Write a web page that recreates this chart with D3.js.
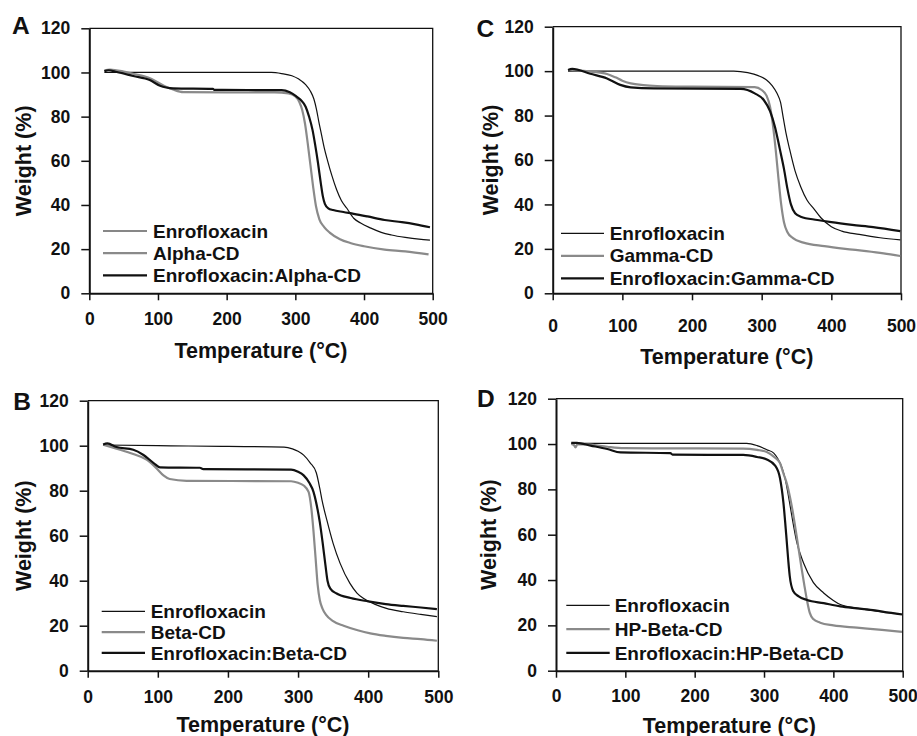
<!DOCTYPE html>
<html>
<head>
<meta charset="utf-8">
<script src="https://cdn.jsdelivr.net/npm/d3@7"></script>
<style>
  body { margin: 0; background: #fff; }
  svg { display: block; font-family: 'Liberation Sans', Arial, Helvetica, sans-serif; }
</style>
</head>
<body>
<div id="chart"></div>
<script>
// Axis ticks and labels
const xTicks = [0, 100, 200, 300, 400, 500];
const yTicks = [0, 20, 40, 60, 80, 100, 120];
const xTitle = 'Temperature (°C)';
const yTitle = 'Weight (%)';

// Series names per panel
const namesA = ['Enrofloxacin', 'Alpha-CD', 'Enrofloxacin:Alpha-CD'];
const namesB = ['Enrofloxacin', 'Beta-CD', 'Enrofloxacin:Beta-CD'];
const namesC = ['Enrofloxacin', 'Gamma-CD', 'Enrofloxacin:Gamma-CD'];
const namesD = ['Enrofloxacin', 'HP-Beta-CD', 'Enrofloxacin:HP-Beta-CD'];

// Panel A: [temperature °C, weight %]
const enroA = [[22,100],[100,100],[200,100],[265,100],[280,99.5],[295,98.5],[305,97],[315,94.5],[322,91.5],[327,88],[331,83],[334,78],[338,72],[342,66],[347,60],[353,53.5],[360,47],[367,42],[375,38.5],[385,34],[395,31.8],[410,29.5],[425,27.6],[440,26.4],[460,25.3],[480,24.5],[496,24.1]];
const alphaA = [[22,101],[30,101.3],[50,100.4],[65,99.3],[80,98.3],[90,97.2],[100,95.5],[110,93.8],[122,92.3],[137,91.1],[200,91],[270,91],[290,90.5],[300,89.2],[306,86.5],[310,83],[314,77],[318,68],[322,58],[326,48],[330,39.5],[335,33.5],[342,30],[350,27.5],[365,24.5],[380,22.8],[400,21.3],[430,19.8],[460,19],[494,17.6]];
const complexA = [[22,100.5],[28,101],[40,100.2],[64,98.4],[88,96.6],[103,94],[112,93.2],[122,92.8],[180,92.6],[182,92.1],[280,92],[292,91],[300,89.5],[308,87.5],[315,84.5],[320,80],[325,74],[329,67],[333,59],[337,50],[340,44],[343,40.5],[348,38.5],[355,37.7],[370,36.8],[385,36],[405,34.8],[430,33.2],[455,32.2],[475,31.2],[496,29.9]];

// Panel B
const enroB = [[22,100.3],[100,100],[200,99.7],[280,99.4],[292,98.6],[300,97.5],[308,95.8],[317,92.5],[326,88],[331,81],[334,76],[341,67],[350,56.6],[360,47.7],[374,38.8],[384,34.5],[393,32.2],[410,29.5],[426,27.7],[450,26.2],[475,25],[498,24]];
const betaB = [[22,100.5],[41,98.7],[65,96.3],[84,93.8],[98,90],[108,86.8],[117,85.2],[141,84.4],[290,84.2],[300,83.5],[308,82.3],[315,79.5],[319,72],[322,62],[325,50],[328,38],[331,31.4],[335,27.5],[340,24.8],[350,22],[365,20],[385,18],[403,16.6],[425,15.5],[450,14.6],[475,14],[498,13.3]];
const complexB = [[22,100.5],[28,101],[41,99.4],[65,98.2],[79,96],[94,92.3],[103,90.4],[160,90.2],[165,89.6],[290,89.4],[300,88.4],[308,86.8],[316,83.5],[322,79.5],[327,73],[331,66],[335,57],[339,47],[342,40],[346,36.5],[355,34.3],[375,32.3],[400,30.8],[425,29.6],[450,28.8],[475,28.1],[498,27.4]];

// Panel C
const enroC = [[22,100],[260,100],[280,99.3],[295,98],[307,96],[315,93.5],[322,90],[327,86],[331,79],[335,72],[340,65],[348,55],[356,48],[365,42],[375,38],[385,34],[400,30],[415,28],[440,26.5],[470,25],[499,24]];
const gammaC = [[22,100.5],[40,100.2],[55,99.8],[78,98.7],[90,97.2],[100,95.7],[112,94.5],[130,93.7],[150,93.3],[200,93],[290,92.8],[300,91.5],[307,89],[312,84],[316,76],[320,65],[324,52],[328,40],[332,32],[337,27.5],[345,24.8],[360,22.8],[390,21.2],[420,20],[450,19],[475,18],[499,16.8]];
const complexC = [[22,100.5],[28,101],[54,98.8],[78,96.7],[97,93.8],[112,92.7],[145,92.2],[270,92],[290,90],[303,87],[312,82],[319,75],[326,65],[332,56],[337,47],[342,40],[348,36],[356,34.5],[380,33],[400,32],[430,30.8],[460,29.8],[499,28]];

// Panel D
const enroD = [[22,100.3],[100,100.3],[200,100.3],[275,100.3],[290,99.3],[304,97.5],[314,96],[320,93.5],[326,89.5],[331,84],[335,77.5],[340,68.5],[347,57],[357,47.5],[371,39],[386,34.3],[400,31],[410,29.2],[434,27.6],[460,26.4],[480,25.6],[499,24.9]];
const hpD = [[22,100],[26,99.5],[28,98.5],[31,100],[50,99.7],[74,98.8],[98,98.2],[150,98.1],[270,98],[290,97.4],[304,96.5],[315,94.2],[323,91.6],[328,87],[333,82.5],[340,72.6],[347,59.5],[354,45.5],[358,38],[362,31],[366,25.5],[371,22.8],[381,21.2],[400,20],[434,19],[470,18],[499,17.1]];
const complexD = [[22,100.5],[30,100.5],[50,99.3],[74,97.8],[93,96.3],[165,96],[168,95.3],[270,95.2],[290,94.3],[304,93.2],[316,90.5],[323,85],[328,74],[332,60],[335,48.5],[337,42],[342,35.2],[350,32.8],[362,31.2],[386,29.8],[410,28.4],[434,27.5],[460,26.6],[480,25.6],[499,24.8]];

(() => {
  window.addEventListener('DOMContentLoaded', () => {
    const WIDTH = 917;
    const HEIGHT = 736;

    // line styles: thin black, grey, thick black
    const styles = [
      { color: '#111', width: 1.2 },
      { color: '#8a8a8a', width: 2.2 },
      { color: '#111', width: 2.2 },
    ];

    const panels = [
      { letter: 'A', lx: 12, ly: 34.3, left: 89.3, right: 432.7, top: 28.3, bottom: 293.3,
        xPad: 12.5, yTitleX: 23, xTitleY: 358.3,
        legend: { x: 103, x2: 147, tx: 153, y: 231, dy: 22.2 },
        names: namesA, series: [enroA, alphaA, complexA] },
      { letter: 'C', lx: 476.5, ly: 36.7, left: 552.7, right: 901, top: 26.7, bottom: 293.3,
        xPad: 19.5, yTitleX: 490.3, xTitleY: 364,
        legend: { x: 561, x2: 604, tx: 609.7, y: 233.3, dy: 22.5 },
        names: namesC, series: [enroC, gammaC, complexC] },
      { letter: 'B', lx: 13.3, ly: 409.7, left: 87.7, right: 438.3, top: 400.7, bottom: 670.7,
        xPad: 12.7, yTitleX: 23.3, xTitleY: 732,
        legend: { x: 101.7, x2: 145, tx: 150.7, y: 611.3, dy: 20.8 },
        names: namesB, series: [enroB, betaB, complexB] },
      { letter: 'D', lx: 477, ly: 407.3, left: 556, right: 902.7, top: 398.7, bottom: 670.7,
        xPad: 11.7, yTitleX: 488.7, xTitleY: 732.5,
        legend: { x: 566.3, x2: 609.7, tx: 614.7, y: 605.3, dy: 23.8 },
        names: namesD, series: [enroD, hpD, complexD] },
    ];

    const svg = d3
      .select('#chart')
      .append('svg')
      .attr('width', WIDTH)
      .attr('height', HEIGHT)
      .attr('viewBox', `0 0 ${WIDTH} ${HEIGHT}`);

    panels.forEach((p) => renderPanel(svg, p, styles));
  });

  function renderPanel(svg, p, styles) {
    const x = d3.scaleLinear().domain([0, 500]).range([p.left, p.right]);
    const y = d3.scaleLinear().domain([0, 120]).range([p.bottom, p.top]);
    const g = svg.append('g');

    // top and right frame
    g.append('path')
      .attr('d', `M${p.left},${p.top}H${p.right}V${p.bottom}`)
      .attr('fill', 'none')
      .attr('stroke', '#111')
      .attr('stroke-width', 1.3);

    // curves
    const line = d3
      .line()
      .x((d) => x(d[0]))
      .y((d) => y(d[1]))
      .curve(d3.curveMonotoneX);

    p.series.forEach((s, i) => {
      g.append('path')
        .datum(s)
        .attr('fill', 'none')
        .attr('stroke', styles[i].color)
        .attr('stroke-width', styles[i].width)
        .attr('stroke-linejoin', 'round')
        .attr('d', line);
    });

    // axes
    g.append('g')
      .attr('transform', `translate(0,${p.bottom})`)
      .call(d3.axisBottom(x).tickValues(xTicks).tickSize(7).tickPadding(p.xPad).tickSizeOuter(0))
      .call(styleAxis);

    g.append('g')
      .attr('transform', `translate(${p.left},0)`)
      .call(d3.axisLeft(y).tickValues(yTicks).tickSize(8).tickPadding(11).tickSizeOuter(0))
      .call(styleAxis);

    // axis titles
    g.append('text')
      .attr('x', (p.left + p.right) / 2)
      .attr('y', p.xTitleY)
      .attr('text-anchor', 'middle')
      .attr('font-size', 21.5)
      .attr('font-weight', 'bold')
      .attr('fill', '#111')
      .text(xTitle);

    g.append('text')
      .attr('transform', `translate(${p.yTitleX},${(p.top + p.bottom) / 2}) rotate(-90)`)
      .attr('dy', '0.35em')
      .attr('text-anchor', 'middle')
      .attr('font-size', 21.5)
      .attr('font-weight', 'bold')
      .attr('fill', '#111')
      .text(yTitle);

    // panel letter
    g.append('text')
      .attr('x', p.lx)
      .attr('y', p.ly)
      .attr('font-size', 24.5)
      .attr('font-weight', 'bold')
      .attr('fill', '#111')
      .text(p.letter);

    // legend
    const lg = g.append('g');
    p.names.forEach((name, i) => {
      const ly = p.legend.y + i * p.legend.dy;
      lg.append('line')
        .attr('x1', p.legend.x)
        .attr('x2', p.legend.x2)
        .attr('y1', ly)
        .attr('y2', ly)
        .attr('stroke', styles[i].color)
        .attr('stroke-width', styles[i].width);
      lg.append('text')
        .attr('x', p.legend.tx)
        .attr('y', ly)
        .attr('dy', '0.35em')
        .attr('font-size', 19)
        .attr('font-weight', 'bold')
        .attr('fill', '#111')
        .text(name);
    });
  }

  function styleAxis(sel) {
    sel.select('.domain').attr('stroke', '#111').attr('stroke-width', 2);
    sel.selectAll('.tick line').attr('stroke', '#111').attr('stroke-width', 1.5);
    sel.selectAll('.tick text')
      .attr('fill', '#111')
      .attr('font-size', 17.5)
      .attr('font-weight', 'bold')
      .attr('font-family', "'Liberation Sans', Arial, sans-serif");
  }
})();
</script>
</body>
</html>
